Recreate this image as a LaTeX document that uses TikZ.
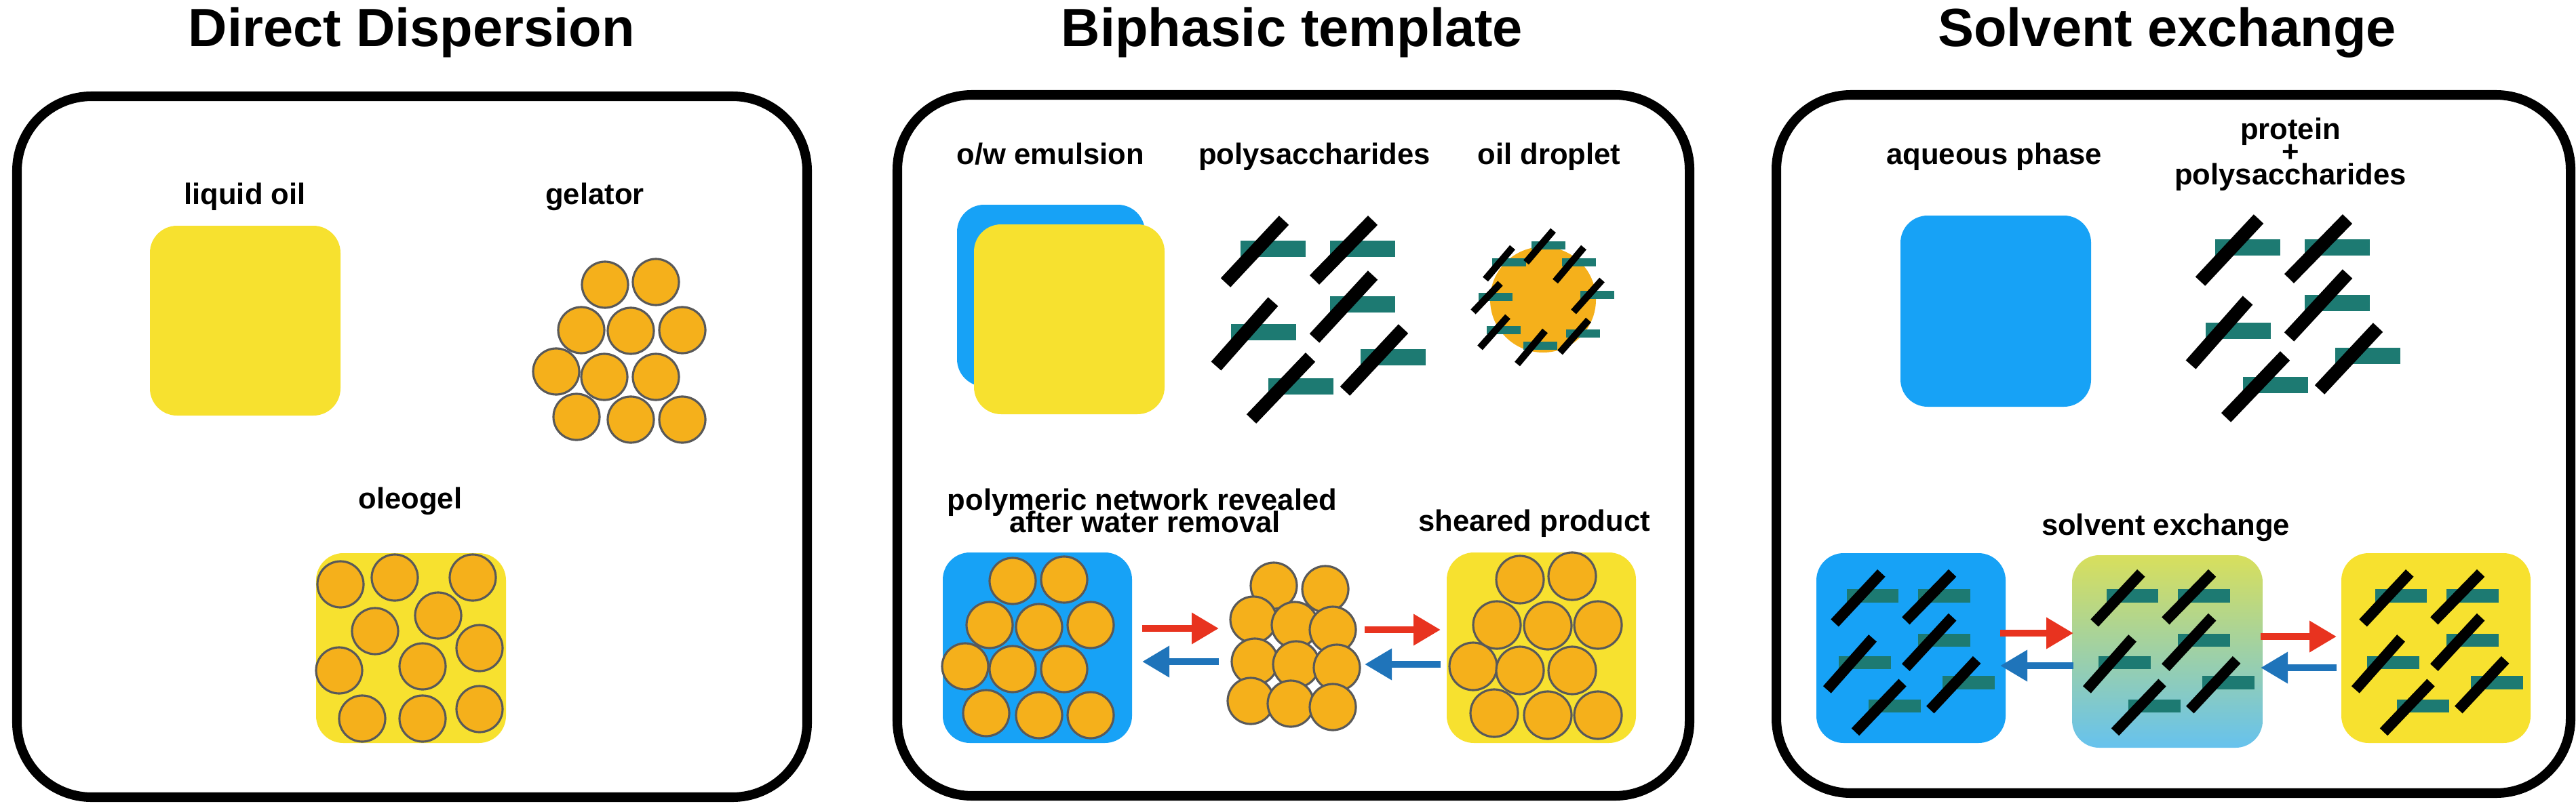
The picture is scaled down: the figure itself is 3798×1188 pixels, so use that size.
\documentclass[tikz,border=0pt]{standalone}
\usepackage{fontspec}
\setmainfont{Liberation Sans}
\usetikzlibrary{arrows.meta}
\definecolor{oilY}{HTML}{F7E12F}
\definecolor{gelO}{HTML}{F5B01B}
\definecolor{aqB}{HTML}{17A2F6}
\definecolor{tealC}{HTML}{1D7A72}
\definecolor{arrR}{HTML}{E8331F}
\definecolor{arrB}{HTML}{1F74BA}
\definecolor{grY}{HTML}{D8DF5C}
\definecolor{grB}{HTML}{66C2EE}
\tikzset{
  panel/.style={line width=4pt, rounded corners=11mm},
  title/.style={font=\fontsize{22.6}{26}\selectfont\bfseries},
  lbl/.style={font=\fontsize{12.4}{13}\selectfont\bfseries},
  sq/.style={rounded corners=4mm},
  gel/.style={fill=gelO, draw=black!65, line width=0.9pt},
  red arr/.style={arrR, line width=2.8pt, -{Triangle[length=4mm,width=4.4mm]}},
  blue arr/.style={arrB, line width=2.8pt, -{Triangle[length=4mm,width=4.4mm]}},
}
\newcommand\polygroup[3]{%
  \begin{scope}[shift={(#1,#2)}, scale=#3]
    \foreach \bx/\by in {0/0,132/0,132/82,-14/123,177/160,41/203}
      \fill[tealC] (\bx-48,\by-12) rectangle (\bx+48,\by+12);
    \foreach \ax/\ay/\cx/\cy in {-70/50/16/-42, 61/46/147/-42, -84/173/0/78, 61/132/147/39, -32/251/55/160, 106/210/192/118}
      \draw[line width=#3*5.6pt, black] (\ax,\ay) -- (\cx,\cy);
  \end{scope}}
\begin{document}
\begin{tikzpicture}[x=0.01cm, y=-0.01cm]
\useasboundingbox (0,0) rectangle (3798,1188);
\fill[white] (0,0) rectangle (3798,1188);
% ---------- Panel 1
\node[title] (t1) at (607,48) {Direct Dispersion};
\draw[panel] (25,142) rectangle (1190,1176);
\node[lbl] (l1) at (361,290) {liquid oil};
\fill[oilY, sq] (221,333) rectangle (502,613);
\node[lbl] (l2) at (877,290) {gelator};
\foreach \x/\y in {892/420,967/416,857/487,930/488,1006/487,820/548,891/556,967/556,850/615,930/619,1006/619}
  \draw[gel] (\x,\y) circle (34);
\node[lbl] (l3) at (605,739) {oleogel};
\fill[oilY, sq] (466,816) rectangle (746,1096);
\foreach \x/\y in {502/862,582/852,697/852,553/931,646/908,707/956,500/989,623/983,534/1060,623/1060,707/1046}
  \draw[gel] (\x,\y) circle (34);
% ---------- Panel 2
\node[title] (t2) at (1905,48) {Biphasic template};
\draw[panel] (1323,140) rectangle (2491,1174);
\node[lbl] (l4) at (1549,227) {o/w emulsion};
\node[lbl] (l5) at (1938,231) {polysaccharides};
\node[lbl] (l6) at (2284,231) {oil droplet};
\fill[aqB, sq] (1411,302) rectangle (1688,570);
\fill[oilY, sq] (1436,331) rectangle (1717,611);
\polygroup{1877}{367}{1}
\fill[gelO] (2275,442) circle (78);
\foreach \x/\y in {2283/362,2328/387,2225/387,2205/438,2355/435,2217/487,2334/492,2271/510}
  \fill[tealC] (\x-25,\y-6) rectangle (\x+25,\y+6);
\foreach \ax/\ay/\cx/\cy in {2190/412/2230/365, 2250/387/2290/340, 2293/415/2335/365, 2172/460/2212/418, 2320/460/2362/413, 2182/513/2223/467, 2237/537/2278/488, 2300/520/2342/472}
  \draw[line width=2.9pt, black] (\ax,\ay) -- (\cx,\cy);
\node[lbl] (l7) at (1684,741) {polymeric network revealed};
\node[lbl] (l8) at (1688,770) {after water removal};
\node[lbl] (l9) at (2262,772) {sheared product};
\fill[aqB, sq] (1390,815) rectangle (1669,1096);
\foreach \x/\y in {1493/857,1569/855,1459/922,1532/925,1608/922,1423/983,1493/987,1569/987,1454/1052,1532/1055,1608/1055}
  \draw[gel] (\x,\y) circle (34);
\foreach \x/\y in {1878/864,1954/869,1848/914,1909/922,1965/929,1850/976,1911/980,1971/985,1844/1034,1903/1038,1965/1043}
  \draw[gel] (\x,\y) circle (34);
\fill[oilY, sq] (2133,815) rectangle (2412,1096);
\foreach \x/\y in {2241/855,2318/850,2207/922,2282/923,2356/922,2172/983,2241/989,2318/989,2203/1052,2282/1055,2356/1055}
  \draw[gel] (\x,\y) circle (35);
\coordinate (a1) at (1684,927); \coordinate (a2) at (1797,927);
\coordinate (a3) at (1797,976); \coordinate (a4) at (1684,976);
\coordinate (a5) at (2012,929); \coordinate (a6) at (2124,929);
\coordinate (a7) at (2124,980); \coordinate (a8) at (2012,980);
\draw[red arr] (a1) -- (a2);
\draw[blue arr] (a3) -- (a4);
\draw[red arr] (a5) -- (a6);
\draw[blue arr] (a7) -- (a8);
% ---------- Panel 3
\node[title] (t3) at (3195,48) {Solvent exchange};
\draw[panel] (2619,140) rectangle (3790,1170);
\node[lbl] (l10) at (2940,231) {aqueous phase};
\node[lbl] (l11) at (3377,194) {protein};
\node[lbl] (l12) at (3377,226) {+};
\node[lbl] (l13) at (3377,261) {polysaccharides};
\fill[aqB, sq] (2802,318) rectangle (3083,600);
\polygroup{3314}{365}{1}
\node[lbl] (l14) at (3193,778) {solvent exchange};
\fill[aqB, sq] (2678,816) rectangle (2957,1096);
\shade[sq, top color=grY, bottom color=grB] (3055,819) rectangle (3336,1103);
\fill[oilY, sq] (3452,816) rectangle (3731,1096);
\polygroup{2761}{879}{0.8}
\polygroup{3144}{879}{0.8}
\polygroup{3540}{879}{0.8}
\coordinate (b1) at (2949,934); \coordinate (b2) at (3057,934);
\coordinate (b3) at (3057,982); \coordinate (b4) at (2949,982);
\coordinate (b5) at (3333,939); \coordinate (b6) at (3445,939);
\coordinate (b7) at (3445,985); \coordinate (b8) at (3333,985);
\draw[red arr] (b1) -- (b2);
\draw[blue arr] (b3) -- (b4);
\draw[red arr] (b5) -- (b6);
\draw[blue arr] (b7) -- (b8);
\end{tikzpicture}
\end{document}
